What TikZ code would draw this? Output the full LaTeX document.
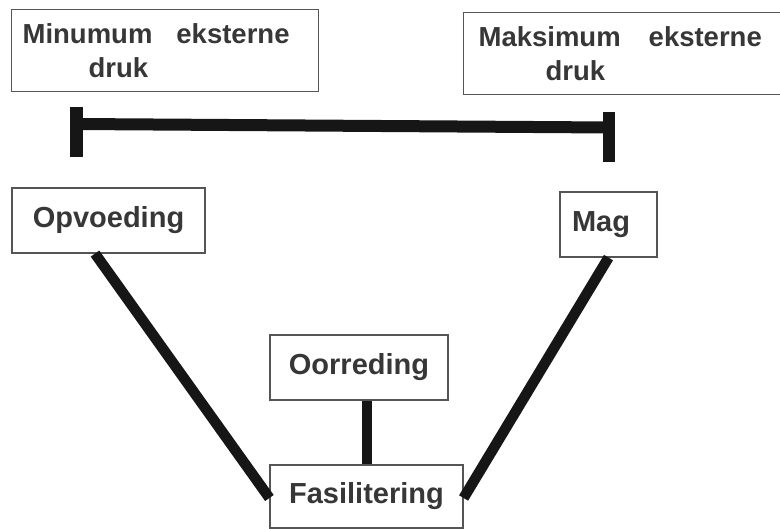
\documentclass[tikz,border=0pt]{standalone}
\usepackage{fontspec}
\setmainfont{Liberation Sans}
\usepackage{xcolor}
\usepackage{tikz}
\usetikzlibrary{positioning}

\definecolor{randgrys}{RGB}{85,85,85}
\definecolor{teksgrys}{RGB}{55,55,55}
\definecolor{balkswart}{RGB}{22,22,22}

\tikzset{
  kassie/.style={draw=randgrys, line width=1.2pt, fill=white, text=teksgrys,
    font=\bfseries\fontsize{29}{34}\selectfont, minimum height=65pt, inner sep=0pt},
  drukkassie/.style={kassie, anchor=north west, minimum height=82pt, align=left,
    font=\bfseries\fontsize{27.5}{34}\selectfont},
  balk/.style={draw=balkswart, line width=10.5pt},
}

\begin{document}
\begin{tikzpicture}[x=1pt,y=1pt,yscale=-1]
\useasboundingbox (0,0) rectangle (780,529);

% Text Node
\node[drukkassie, minimum width=307pt, text width=285pt] (mindruk) at (11,9) {Minumum\hspace{24pt}eksterne\\\hspace*{66pt}druk};
% Text Node
\node[drukkassie, minimum width=330pt, text width=300pt] (maksdruk) at (463,12) {Maksimum\hspace{28pt}eksterne\\\hspace*{67pt}druk};

%Straight Lines
\draw[balk, line width=12pt] (76.5,124) -- (609,127.5);
\draw[balk, line width=13pt] (76.5,107) -- (76.5,157);
\draw[balk, line width=12pt] (609,112) -- (609,162);

% Text Node
\node[kassie, minimum width=193pt] (opvoeding) at (108.5,220.5) {Opvoeding};
% Text Node
\node[kassie, minimum width=97pt, text width=73pt, align=left] (mag) at (608.5,224.5) {Mag};
% Text Node
\node[kassie, minimum width=178pt] (oorreding) at (359,367.5) {Oorreding};
% Text Node
\node[kassie, minimum width=193pt, minimum height=63pt] (fasilitering) at (366.5,496.5) {Fasilitering};

%Straight Lines
\draw[balk] ([xshift=-13.5pt]opvoeding.south) -- ([yshift=1.5pt]fasilitering.west);
\draw[balk] (mag.south) -- ([yshift=1.5pt]fasilitering.east);
\draw[balk, line width=10pt] (oorreding.south -| fasilitering.north) -- (fasilitering.north);

\end{tikzpicture}
\end{document}
